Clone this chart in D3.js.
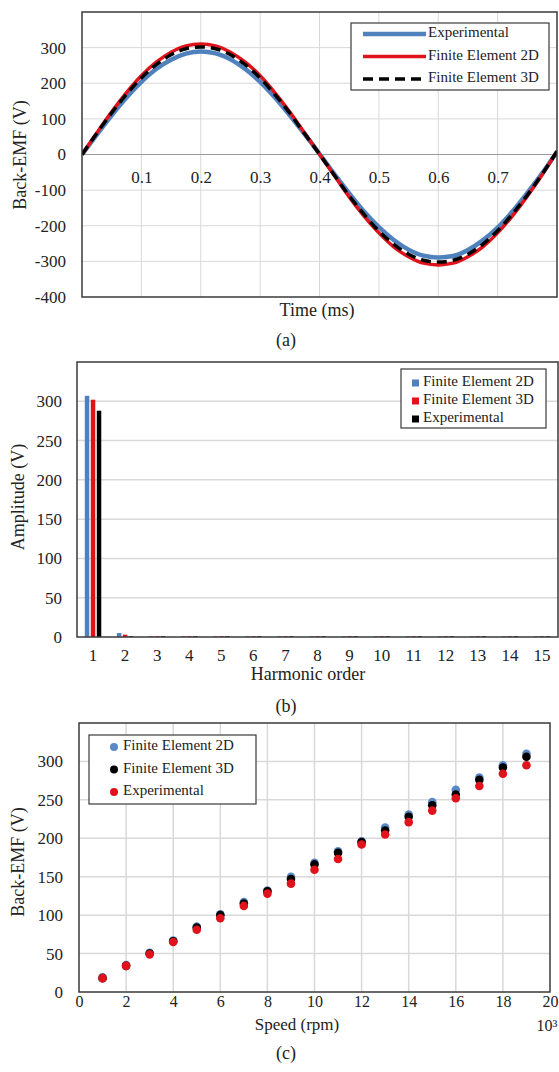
<!DOCTYPE html>
<html><head><meta charset="utf-8">
<script src="https://cdn.jsdelivr.net/npm/d3@7"></script>
<style>
html,body{margin:0;padding:0;background:#fff;}
svg text{font-family:"Liberation Serif","Times New Roman",serif !important;fill:#222;}
</style></head>
<body><svg id="c" width="559" height="1072" font-family="Liberation Serif"></svg>
<script>
// ---------- Data (a) ----------
const timeMs = [0,0.025,0.05,0.075,0.1,0.125,0.15,0.175,0.2,0.225,0.25,0.275,0.3,0.325,0.35,0.375,0.4,0.425,0.45,0.475,0.5,0.525,0.55,0.575,0.6,0.625,0.65,0.675,0.7,0.725,0.75,0.775,0.8];
const emfExperimental = [0,56,110,160,204,240,266,283,289,284,267,240,204,160,110,57,2,-55,-109,-160,-204,-240,-267,-284,-289,-285,-268,-241,-205,-160,-108,-53,8];
const emfFE2D = [0,61,120,174,221,259,287,305,310,305,287,259,221,173,119,60,1,-59,-119,-173,-220,-259,-287,-305,-310,-305,-287,-259,-220,-172,-117,-57,9];
const emfFE3D = [0,60,117,169,215,252,280,297,302,297,280,252,215,168,116,58,1,-58,-116,-168,-215,-252,-280,-297,-302,-297,-280,-252,-214,-167,-114,-55,9];
const timeTicks = ["0.1","0.2","0.3","0.4","0.5","0.6","0.7"];
const emfTicksA = [-400,-300,-200,-100,0,100,200,300];

// ---------- Data (b) ----------
const harmonics = ["1","2","3","4","5","6","7","8","9","10","11","12","13","14","15"];
const ampFE2D = [307,5,1,1,1,1,1,1,1,1,1,1,1,1,1];
const ampFE3D = [302,3,1,1,1,1,1,1,1,1,1,1,1,1,1];
const ampExperimental = [288,1,1,1,1,1,1,1,1,1,1,1,1,1,1];
const ampTicks = [0,50,100,150,200,250,300];

// ---------- Data (c) ----------
const speedK = [1,2,3,4,5,6,7,8,9,10,11,12,13,14,15,16,17,18,19];
const spFE2D = [19,35,51,67,85,101,117,132,150,168,183,196,214,231,247,263,279,295,310];
const spFE3D = [18,34,50,66,84,100,115,131,147,166,181,195,210,228,243,257,276,292,306];
const spExperimental = [18,34,49,65,81,96,112,128,141,159,173,192,205,221,236,252,268,284,295];
const speedTicks = [0,2,4,6,8,10,12,14,16,18,20];
const emfTicksC = [0,50,100,150,200,250,300];

const C_BLUE = "#4f81bd", C_RED = "#e0121b", C_BLACK = "#000", C_BLUE_PT = "#5a8ac6";
const GRID = "#d9d9d9", FRAME = "#3a3a3a";
const FONT = "Liberation Serif";
const svg = d3.select("#c");

function styleAxis(sel, size){
  sel.select(".domain").remove();
  sel.attr("font-family",FONT);
  sel.selectAll("text").attr("font-family",FONT).style("font-size",(size||17)+"px").attr("fill","#222");
}
function frame(g, x0, y0, x1, y1){
  g.append("rect").attr("x",x0).attr("y",y0).attr("width",x1-x0).attr("height",y1-y0)
   .attr("fill","none").attr("stroke",FRAME).attr("stroke-width",1.5);
}
function yTitle(text, x, y){
  svg.append("text").attr("transform",`translate(${x},${y}) rotate(-90)`)
    .attr("text-anchor","middle").attr("dominant-baseline","middle").attr("font-family",FONT)
    .style("font-size","18px").text(text);
}
function label(text, x, y, size){
  svg.append("text").attr("x",x).attr("y",y).attr("text-anchor","middle").attr("font-family",FONT)
    .attr("dominant-baseline","middle").style("font-size",(size||18)+"px").text(text);
}
function legText(g, text, x, y){
  g.append("text").attr("x",x).attr("y",y).attr("dominant-baseline","middle").attr("font-family",FONT)
    .style("font-size","15px").text(text);
}

// ================= Panel (a) =================
{
  const L=82, R=557, T=12, B=297;
  const x = d3.scaleLinear().domain([0,0.8]).range([L,R]);
  const y = d3.scaleLinear().domain([-400,400]).range([B,T]);
  const g = svg.append("g");
  g.selectAll(".gx").data(d3.range(1,8).map(i=>i/10)).join("line")
    .attr("x1",d=>x(d)).attr("x2",d=>x(d)).attr("y1",T).attr("y2",B).attr("stroke",GRID);
  g.selectAll(".gy").data(d3.range(-300,400,100)).join("line")
    .attr("x1",L).attr("x2",R).attr("y1",d=>y(d)).attr("y2",d=>y(d)).attr("stroke",GRID);
  g.append("line").attr("x1",L).attr("x2",R).attr("y1",y(0)).attr("y2",y(0)).attr("stroke","#9a9a9a");
  const ya = g.append("g").attr("transform",`translate(${L},0)`)
    .call(d3.axisLeft(y).tickValues(emfTicksA).tickSize(0).tickPadding(16).tickFormat(d=>String(d)));
  styleAxis(ya);
  const xa = g.append("g").attr("transform",`translate(0,${y(0)})`)
    .call(d3.axisBottom(x).tickValues(timeTicks.map(Number)).tickSize(0).tickPadding(16).tickFormat((d,i)=>timeTicks[i]));
  styleAxis(xa);
  const line = d3.line().x(d=>x(d[0])).y(d=>y(d[1])).curve(d3.curveMonotoneX);
  g.append("clipPath").attr("id","clipA").append("rect").attr("x",L).attr("y",T).attr("width",R-L).attr("height",B-T);
  const lines = g.append("g").attr("clip-path","url(#clipA)");
  lines.append("path").attr("d",line(timeMs.map((t,i)=>[t,emfExperimental[i]]))).attr("fill","none").attr("stroke",C_BLUE).attr("stroke-width",4.5);
  lines.append("path").attr("d",line(timeMs.map((t,i)=>[t,emfFE2D[i]]))).attr("fill","none").attr("stroke",C_RED).attr("stroke-width",3.5);
  lines.append("path").attr("d",line(timeMs.map((t,i)=>[t,emfFE3D[i]]))).attr("fill","none").attr("stroke",C_BLACK).attr("stroke-width",3.5).attr("stroke-dasharray","10,6");
  frame(g,L,T,R,B);
  const lg = g.append("g");
  lg.append("rect").attr("x",351).attr("y",23).attr("width",198).attr("height",67).attr("fill","#fff").attr("stroke",FRAME).attr("stroke-width",1.2);
  const items = [["Experimental",C_BLUE,null,4.5],["Finite Element 2D",C_RED,null,3.5],["Finite Element 3D",C_BLACK,"10,6",3.5]];
  items.forEach((it,i)=>{
    const yy = 34 + i*22.5;
    lg.append("line").attr("x1",363).attr("x2",426).attr("y1",yy).attr("y2",yy).attr("stroke",it[1]).attr("stroke-width",it[3]).attr("stroke-dasharray",it[2]);
    legText(lg, it[0], 428, yy);
  });
  label("Time (ms)", 317, 312);
  yTitle("Back-EMF (V)", 22, 155);
  label("(a)", 286, 342);
}

// ================= Panel (b) =================
{
  const L=77, R=558, T=362, B=637;
  const x = d3.scaleBand().domain(harmonics).range([L,R]).paddingInner(0).paddingOuter(0);
  const sub = d3.scaleBand().domain(["fe2d","fe3d","exp"]).range([0,x.bandwidth()]).paddingInner(0.25).paddingOuter(1.3);
  const y = d3.scaleLinear().domain([0,350]).range([B,T]);
  const g = svg.append("g");
  g.selectAll(".gy").data(d3.range(50,350,50)).join("line")
    .attr("x1",L).attr("x2",R).attr("y1",d=>y(d)).attr("y2",d=>y(d)).attr("stroke",GRID).attr("stroke-width",1.5);
  const ya = g.append("g").attr("transform",`translate(${L},0)`)
    .call(d3.axisLeft(y).tickValues(ampTicks).tickSize(0).tickPadding(15).tickFormat(d=>String(d)));
  styleAxis(ya);
  const xa = g.append("g").attr("transform",`translate(0,${B})`)
    .call(d3.axisBottom(x).tickSize(0).tickPadding(12));
  styleAxis(xa);
  const series = [["fe2d",ampFE2D,C_BLUE],["fe3d",ampFE3D,C_RED],["exp",ampExperimental,C_BLACK]];
  series.forEach(([k,vals,col])=>{
    g.append("g").selectAll("rect").data(harmonics).join("rect")
      .attr("x",d=>x(d)+sub(k)).attr("width",sub.bandwidth())
      .attr("y",(d,i)=>y(vals[i])).attr("height",(d,i)=>B-y(vals[i])).attr("fill",col);
  });
  frame(g,L,T,R,B);
  const lg = g.append("g");
  lg.append("rect").attr("x",401).attr("y",369).attr("width",145).attr("height",59).attr("fill","#fff").attr("stroke",FRAME).attr("stroke-width",1.2);
  [["Finite Element 2D",C_BLUE],["Finite Element 3D",C_RED],["Experimental",C_BLACK]].forEach((it,i)=>{
    const yy = 383 + i*18;
    lg.append("rect").attr("x",412).attr("y",yy-3.5).attr("width",7).attr("height",7).attr("fill",it[1]);
    legText(lg, it[0], 423, yy);
  });
  label("Harmonic order", 308, 676);
  yTitle("Amplitude (V)", 20, 497);
  label("(b)", 286, 708);
}

// ================= Panel (c) =================
{
  const L=79, R=550, T=723, B=992;
  const x = d3.scaleLinear().domain([0,20]).range([L,R]);
  const y = d3.scaleLinear().domain([0,350]).range([B,T]);
  const g = svg.append("g");
  g.selectAll(".gx").data(d3.range(2,20,2)).join("line")
    .attr("x1",d=>x(d)).attr("x2",d=>x(d)).attr("y1",T).attr("y2",B).attr("stroke",GRID).attr("stroke-width",1.5);
  g.selectAll(".gy").data(d3.range(50,350,50)).join("line")
    .attr("x1",L).attr("x2",R).attr("y1",d=>y(d)).attr("y2",d=>y(d)).attr("stroke",GRID).attr("stroke-width",1.5);
  const ya = g.append("g").attr("transform",`translate(${L},0)`)
    .call(d3.axisLeft(y).tickValues(emfTicksC).tickSize(0).tickPadding(16).tickFormat(d=>String(d)));
  styleAxis(ya);
  const xa = g.append("g").attr("transform",`translate(0,${B})`)
    .call(d3.axisBottom(x).tickValues(speedTicks).tickSize(0).tickPadding(4).tickFormat(d=>String(d)));
  styleAxis(xa, 16);
  const series = [[spFE2D,C_BLUE_PT],[spFE3D,C_BLACK],[spExperimental,C_RED]];
  series.forEach(([vals,col])=>{
    g.append("g").selectAll("circle").data(speedK).join("circle")
      .attr("cx",d=>x(d)).attr("cy",(d,i)=>y(vals[i])).attr("r",4.3).attr("fill",col);
  });
  frame(g,L,T,R,B);
  const lg = g.append("g");
  lg.append("rect").attr("x",89).attr("y",735).attr("width",167).attr("height",69).attr("fill","#fff").attr("stroke",FRAME).attr("stroke-width",1.2);
  [["Finite Element 2D",C_BLUE_PT],["Finite Element 3D",C_BLACK],["Experimental",C_RED]].forEach((it,i)=>{
    const yy = 747 + i*22.5;
    lg.append("circle").attr("cx",114).attr("cy",yy).attr("r",4).attr("fill",it[1]);
    legText(lg, it[0], 123, yy);
  });
  label("Speed (rpm)", 297, 1026, 17);
  svg.append("text").attr("x",547).attr("y",1027).attr("text-anchor","middle").attr("dominant-baseline","middle")
    .attr("font-family",FONT).style("font-size","16px").text("10³");
  yTitle("Back-EMF (V)", 20, 862);
  label("(c)", 286, 1055);
}
</script></body></html>
